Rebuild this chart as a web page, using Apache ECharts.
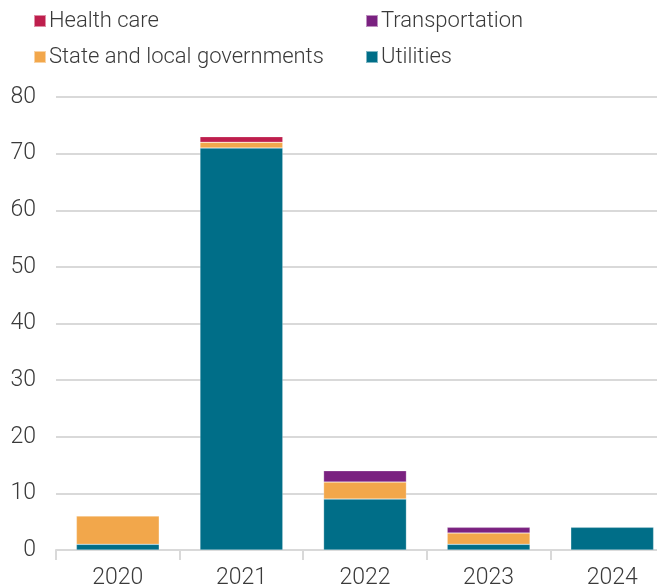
<!DOCTYPE html>
<html>
<head>
<meta charset="utf-8">
<script src="https://cdn.jsdelivr.net/npm/echarts@6/dist/echarts.min.js"></script>
<style>
  html, body { margin: 0; padding: 0; background: #fff; }
  #chart { width: 657px; height: 588px; }
</style>
</head>
<body>
<div id="chart"></div>
<script>
// Yearly counts by sector, stacked from the bottom up
const years = ['2020', '2021', '2022', '2023', '2024'];
const utilities = [1, 71, 9, 1, 4];
const stateLocal = [5, 1, 3, 2, 0];
const transportation = [0, 0, 2, 1, 0];
const healthCare = [0, 1, 0, 0, 0];
const yTicks = [0, 10, 20, 30, 40, 50, 60, 70, 80];

const colors = {
  'Health care': '#BE1E4D',
  'Transportation': '#7A2180',
  'State and local governments': '#F2A74B',
  'Utilities': '#006E88'
};

const font = 'Roboto, "Liberation Sans", sans-serif';
const textColor = '#3a3a3a';

function legendAt(name, left, top) {
  return {
    data: [name],
    left: left, top: top,
    icon: 'rect', itemWidth: 12, itemHeight: 12,
    selectedMode: false,
    textStyle: { fontFamily: font, fontSize: 22, fontWeight: 300, color: textColor, padding: [0, 0, 0, -2] }
  };
}

function bar(name, values) {
  return {
    name: name, type: 'bar', stack: 'total',
    data: values.map(v => v === 0 ? null : v),
    barCategoryGap: '33%',
    itemStyle: { color: colors[name], borderColor: 'rgba(255,255,255,0.5)', borderWidth: 0.5 }
  };
}

const chart = echarts.init(document.getElementById('chart'), null, { renderer: 'canvas' });
chart.setOption({
  animation: false,
  legend: [
    legendAt('Health care', 28, 5),
    legendAt('Transportation', 360, 5),
    legendAt('State and local governments', 28, 41),
    legendAt('Utilities', 360, 41)
  ],
  grid: { left: 56, width: 618, top: 97, bottom: 38, containLabel: false, outerBoundsMode: 'none' },
  xAxis: {
    type: 'category', data: years,
    axisLine: { lineStyle: { color: '#d9d9d9', width: 2 } },
    axisTick: { show: true, length: 10, lineStyle: { color: '#d9d9d9', width: 2 } },
    axisLabel: { fontFamily: font, fontSize: 23, fontWeight: 300, color: textColor, margin: 17 }
  },
  yAxis: {
    type: 'value', min: yTicks[0], max: yTicks[yTicks.length - 1], interval: 10,
    axisLine: { show: false }, axisTick: { show: false },
    splitLine: { lineStyle: { color: '#d9d9d9', width: 2 } },
    axisLabel: { fontFamily: font, fontSize: 23, fontWeight: 300, color: textColor, margin: 20 }
  },
  series: [
    bar('Utilities', utilities),
    bar('State and local governments', stateLocal),
    bar('Transportation', transportation),
    bar('Health care', healthCare)
  ]
});
</script>
</body>
</html>
